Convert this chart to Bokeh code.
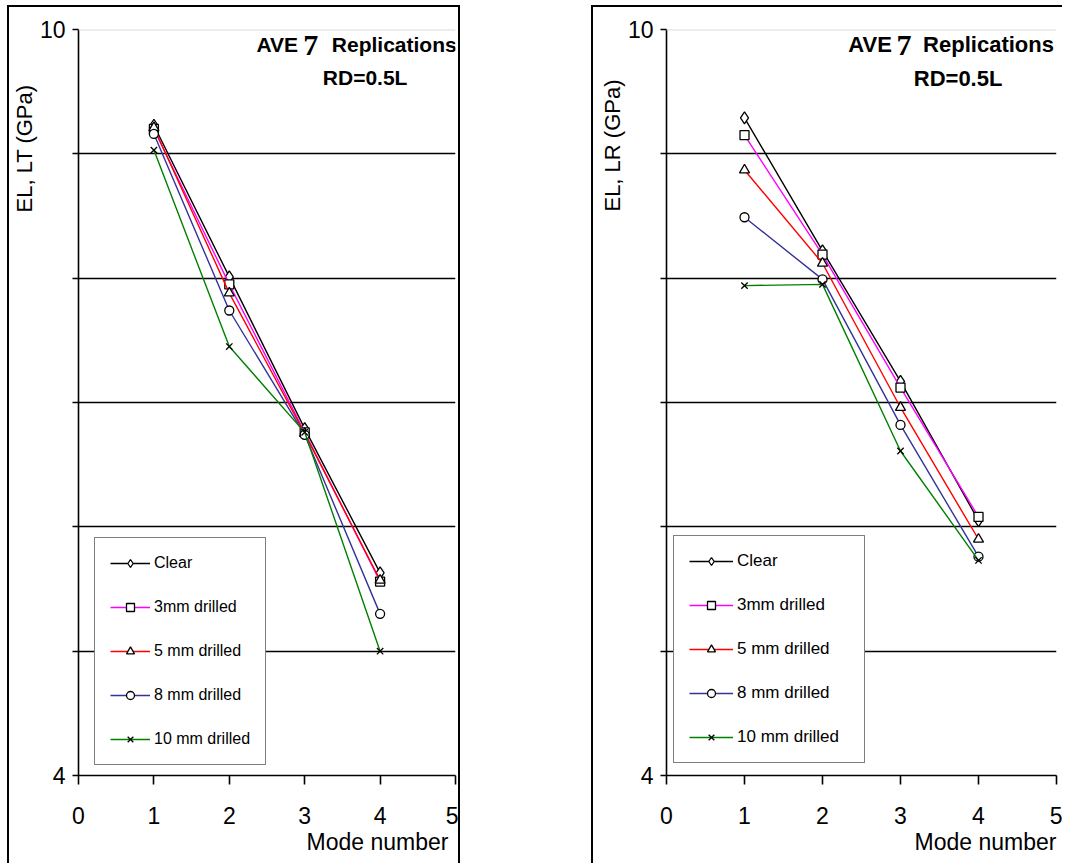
from bokeh.plotting import figure
from bokeh.models import Range1d, FixedTicker, Span, Label, Spacer, Title
from bokeh.layouts import row, column
from bokeh.embed import file_html
from bokeh.resources import INLINE

# ---------------- data ----------------
modes = [1, 2, 3, 4]
series_names = ["Clear", "3mm drilled", "5 mm drilled", "8 mm drilled", "10 mm drilled"]

lt_clear = [9.23, 8.01, 6.79, 5.63]
lt_3mm = [9.20, 7.95, 6.76, 5.56]
lt_5mm = [9.21, 7.88, 6.75, 5.57]
lt_8mm = [9.16, 7.74, 6.74, 5.30]
lt_10mm = [9.03, 7.45, 6.76, 5.00]

lr_clear = [9.29, 8.22, 7.17, 6.05]
lr_3mm = [9.15, 8.19, 7.12, 6.08]
lr_5mm = [8.87, 8.12, 6.96, 5.90]
lr_8mm = [8.49, 7.99, 6.82, 5.76]
lr_10mm = [7.94, 7.95, 6.61, 5.73]

x_ticks = [0, 1, 2, 3, 4, 5]
y_ticks = [4, 5, 6, 7, 8, 9, 10]
y_grid_ticks = [5, 6, 7, 8, 9]
y_tick_labels = {4: "4", 10: "10"}

colors = ["#000000", "#FF00FF", "#FF0000", "#333399", "#008000"]
markers = ["diamond", "square", "triangle", "circle", "x"]
msizes = [12, 9, 10, 9, 9]

FONT = "Liberation Sans"


def make_panel(ylabel, data, width, height, mb_left, mb_right, mb_top, mb_bottom,
               legend_loc, glyph_w, label_w, legend_font, title_pos, title_size,
               ylabel_offset, xlabel_offset, right_border=True):
    p = figure(width=width, height=height, x_range=Range1d(0, 5), y_range=Range1d(4, 10),
               output_backend="svg", toolbar_location=None,
               min_border_left=mb_left, min_border_right=mb_right,
               min_border_top=mb_top, min_border_bottom=mb_bottom)
    p.outline_line_color = None
    p.background_fill_color = "white"
    p.border_fill_color = "white"
    p.xgrid.visible = False
    p.ygrid.ticker = FixedTicker(ticks=y_grid_ticks)
    p.ygrid.grid_line_color = "black"
    p.ygrid.grid_line_width = 1.6

    for ax in (p.xaxis[0], p.yaxis[0]):
        ax.axis_line_color = "black"
        ax.axis_line_width = 1.6
        ax.major_tick_line_color = "black"
        ax.major_tick_line_width = 1.6
        ax.major_tick_in = 0
        ax.minor_tick_line_color = None
        ax.major_label_text_font = FONT
        ax.major_label_text_font_size = "23px"
        ax.major_label_text_color = "black"
    p.xaxis.ticker = FixedTicker(ticks=x_ticks)
    p.xaxis.major_tick_out = 9
    p.xaxis.major_label_standoff = 22
    p.yaxis.ticker = FixedTicker(ticks=y_ticks)
    p.yaxis.major_tick_out = 6
    p.yaxis.major_label_standoff = 7
    p.yaxis.major_label_overrides = {t: y_tick_labels.get(t, "") for t in y_ticks}

    p.add_layout(Span(location=10, dimension="width", line_color="#d9d9d9", line_width=2))

    for name, ys, c, m, s in zip(series_names, data, colors, markers, msizes):
        p.line(modes, ys, line_color=c, line_width=1.4, legend_label=name)
        p.scatter(modes, ys, marker=m, size=s, line_color="black", line_width=1.3,
                  fill_color="white", legend_label=name)

    leg = p.legend[0]
    leg.location = legend_loc
    leg.border_line_color = "black"
    leg.border_line_width = 1.6
    leg.background_fill_color = "white"
    leg.background_fill_alpha = 1
    leg.label_text_font = FONT
    leg.label_text_font_size = legend_font
    leg.label_text_color = "black"
    leg.label_height = 20
    leg.label_width = label_w
    leg.glyph_height = 20
    leg.glyph_width = glyph_w
    leg.spacing = 24
    leg.padding = 15
    leg.margin = 0
    leg.label_standoff = 4

    ax_x, seven_x, rep_x, rd_x, base1, base7, base2 = title_pos
    bold = dict(text_font=FONT, text_font_style="bold", text_font_size=title_size,
                text_color="black", text_baseline="middle", text_align="left")
    p.add_layout(Label(x=ax_x, y=base1, text="AVE", **bold))
    p.add_layout(Label(x=seven_x, y=base7, text="7", text_font="Liberation Serif",
                       text_font_style="bold", text_font_size="30px", text_color="black",
                       text_baseline="middle", text_align="left"))
    p.add_layout(Label(x=rep_x, y=base1, text="Replications", **bold))
    p.add_layout(Label(x=rd_x, y=base2, text="RD=0.5L", **bold))

    p.add_layout(Title(text=ylabel, align="right", offset=ylabel_offset, standoff=0,
                       text_font=FONT, text_font_size="22px", text_font_style="normal",
                       text_color="black"), "left")
    p.add_layout(Title(text="Mode number", align="right", offset=xlabel_offset, standoff=0,
                       text_font=FONT, text_font_size="23px", text_font_style="normal",
                       text_color="black"), "below")

    st = {"border-top": "2px solid black", "border-left": "2px solid black"}
    if right_border:
        st["border-right"] = "2px solid black"
    p.styles = st
    return p


p1 = make_panel("EL, LT (GPa)", [lt_clear, lt_3mm, lt_5mm, lt_8mm, lt_10mm],
                453, 858, 69, 7, 20, 88, (16, 10), 40, 20, "16px",
                (2.36, 2.98, 3.36, 3.24, 9.876, 9.87, 9.615), "21px", 55, 7)
p2 = make_panel("EL, LR (GPa)", [lr_clear, lr_3mm, lr_5mm, lr_8mm, lr_10mm],
                471, 858, 73, 8, 22, 90, (7, 12), 44, 112, "17px",
                (2.33, 2.95, 3.29, 3.17, 9.883, 9.875, 9.605), "22px", 50, 0,
                right_border=False)

layout = column(Spacer(width=10, height=5),
                row(Spacer(width=7, height=10), p1, Spacer(width=131, height=10), p2))

open("out.html", "w").write(file_html(layout, INLINE))
